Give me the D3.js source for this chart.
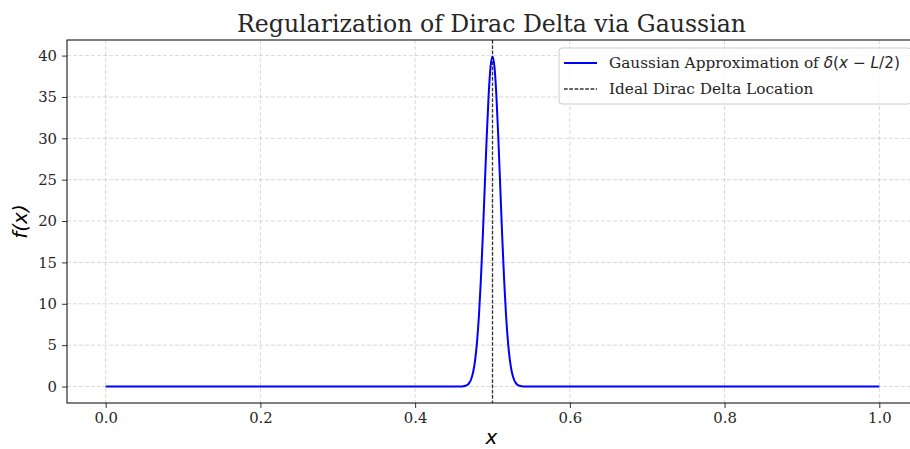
<!DOCTYPE html>
<html>
<head>
<meta charset="utf-8">
<script src="https://cdn.jsdelivr.net/npm/d3@7"></script>
<style>
  body { margin: 0; background: #fff; }
  svg text { font-family: "DejaVu Serif", serif; }
  .math { font-family: "DejaVu Sans", sans-serif; font-style: italic; }
</style>
</head>
<body>
<div id="graphique"></div>
<script>
// valeurs
const xValues = [0.0, 0.45, 0.455, 0.46, 0.4625, 0.465, 0.4675, 0.47, 0.4725, 0.475, 0.4775, 0.48, 0.4825, 0.485,
    0.4875, 0.49, 0.4925, 0.495, 0.4975, 0.5, 0.5025, 0.505, 0.5075, 0.51, 0.5125, 0.515, 0.5175, 0.52,
    0.5225, 0.525, 0.5275, 0.53, 0.5325, 0.535, 0.5375, 0.54, 0.545, 0.55, 1.0];
const yValues = [0.0, 0.0, 0.0002, 0.013, 0.035, 0.087, 0.20, 0.44, 0.91, 1.75, 3.17, 5.40, 8.62, 12.95,
    18.26, 24.20, 30.10, 35.21, 38.66, 39.89, 38.66, 35.21, 30.10, 24.20, 18.26, 12.95, 8.62, 5.40,
    3.17, 1.75, 0.91, 0.44, 0.20, 0.087, 0.035, 0.013, 0.0002, 0.0, 0.0];
const xTicks = [0.0, 0.2, 0.4, 0.6, 0.8, 1.0];
const yTicks = [0, 5, 10, 15, 20, 25, 30, 35, 40];
const deltaLocation = 0.5;

const points = xValues.map((x, i) => ({ x: x, y: yValues[i] }));

function AffichageGraph() {
    const width = 910, height = 449;
    const margin = { top: 40, right: -8, bottom: 46, left: 67 };
    const innerWidth = width - margin.left - margin.right;
    const innerHeight = height - margin.top - margin.bottom;

    const root = d3.select("#graphique").append("svg")
        .attr("width", width)
        .attr("height", height);

    const svg = root.append("g")
        .attr("transform", `translate(${margin.left},${margin.top})`);

    const yMax = d3.max(yValues);
    const xScale = d3.scaleLinear()
        .domain([-0.05, 1.05])
        .range([0, innerWidth]);

    const yScale = d3.scaleLinear()
        .domain([-0.05 * yMax, 1.05 * yMax])
        .range([innerHeight, 0]);

    // grille
    svg.append("g")
        .selectAll("line")
        .data(xTicks)
        .enter()
        .append("line")
        .attr("x1", d => xScale(d))
        .attr("x2", d => xScale(d))
        .attr("y1", 0)
        .attr("y2", innerHeight)
        .style("stroke", "#b0b0b0")
        .style("stroke-opacity", 0.6)
        .style("stroke-dasharray", "4,2")
        .style("stroke-width", 0.8);

    svg.append("g")
        .selectAll("line")
        .data(yTicks)
        .enter()
        .append("line")
        .attr("x1", 0)
        .attr("x2", innerWidth)
        .attr("y1", d => yScale(d))
        .attr("y2", d => yScale(d))
        .style("stroke", "#b0b0b0")
        .style("stroke-opacity", 0.6)
        .style("stroke-dasharray", "4,2")
        .style("stroke-width", 0.8);

    // courbe gaussienne
    const line = d3.line()
        .x(d => xScale(d.x))
        .y(d => yScale(d.y))
        .curve(d3.curveMonotoneX);

    svg.append("path")
        .datum(points)
        .attr("d", line)
        .style("fill", "none")
        .style("stroke", "#0000ff")
        .style("stroke-width", 2);

    // position du dirac
    svg.append("line")
        .attr("x1", xScale(deltaLocation))
        .attr("x2", xScale(deltaLocation))
        .attr("y1", 0)
        .attr("y2", innerHeight)
        .style("stroke", "#000")
        .style("stroke-opacity", 0.8)
        .style("stroke-dasharray", "3.7,1.6")
        .style("stroke-width", 1.3);

    // axes
    const xAxis = svg.append("g")
        .attr("transform", `translate(0,${innerHeight})`)
        .call(d3.axisBottom(xScale).tickValues(xTicks).tickFormat(d3.format(".1f")).tickSize(5).tickPadding(4));
    const yAxis = svg.append("g")
        .call(d3.axisLeft(yScale).tickValues(yTicks).tickFormat(d3.format("d")).tickSize(5).tickPadding(5));

    [xAxis, yAxis].forEach(ax => {
        ax.select(".domain").remove();
        ax.selectAll("line").style("stroke", "#000").style("stroke-width", 0.8);
        ax.selectAll("text")
            .style("font-family", "DejaVu Serif")
            .style("font-size", "14.8px")
            .style("fill", "#262626");
    });

    // cadre
    svg.append("rect")
        .attr("x", 0)
        .attr("y", 0)
        .attr("width", innerWidth)
        .attr("height", innerHeight)
        .style("fill", "none")
        .style("stroke", "#000")
        .style("stroke-width", 1);

    // titre
    root.append("text")
        .attr("x", margin.left + innerWidth / 2 - 1)
        .attr("y", 32)
        .attr("text-anchor", "middle")
        .style("font-size", "23.6px")
        .style("fill", "#262626")
        .text("Regularization of Dirac Delta via Gaussian");

    // labels
    root.append("text")
        .attr("class", "math")
        .attr("x", margin.left + xScale(0.5) - 1)
        .attr("y", 444)
        .attr("text-anchor", "middle")
        .style("font-size", "20px")
        .text("x");

    root.append("text")
        .attr("class", "math")
        .attr("transform", `translate(27,${margin.top + innerHeight / 2}) rotate(-90)`)
        .attr("text-anchor", "middle")
        .style("font-size", "20px")
        .text("f(x)");

    // legende
    const legend = root.append("g").attr("transform", "translate(559,48)");
    legend.append("rect")
        .attr("width", 352)
        .attr("height", 56)
        .attr("rx", 3)
        .style("fill", "#fff")
        .style("fill-opacity", 0.8)
        .style("stroke", "#cccccc")
        .style("stroke-width", 1);

    legend.append("line")
        .attr("x1", 5).attr("x2", 38).attr("y1", 15).attr("y2", 15)
        .style("stroke", "#0000ff").style("stroke-width", 2);
    legend.append("line")
        .attr("x1", 5).attr("x2", 38).attr("y1", 41).attr("y2", 41)
        .style("stroke", "#000").style("stroke-opacity", 0.8)
        .style("stroke-dasharray", "3.7,1.6").style("stroke-width", 1.3);

    const t1 = legend.append("text")
        .attr("x", 50).attr("y", 20)
        .style("font-size", "15.3px")
        .style("fill", "#262626");
    t1.append("tspan").text("Gaussian Approximation of ");
    t1.append("tspan").attr("class", "math").text("δ");
    t1.append("tspan").style("font-family", "DejaVu Sans").text("(");
    t1.append("tspan").attr("class", "math").text("x");
    t1.append("tspan").style("font-family", "DejaVu Sans").text(" − ");
    t1.append("tspan").attr("class", "math").text("L");
    t1.append("tspan").style("font-family", "DejaVu Sans").text("/2)");

    legend.append("text")
        .attr("x", 50).attr("y", 46)
        .style("font-size", "15.3px")
        .style("fill", "#262626")
        .text("Ideal Dirac Delta Location");
}

AffichageGraph();
</script>
</body>
</html>
